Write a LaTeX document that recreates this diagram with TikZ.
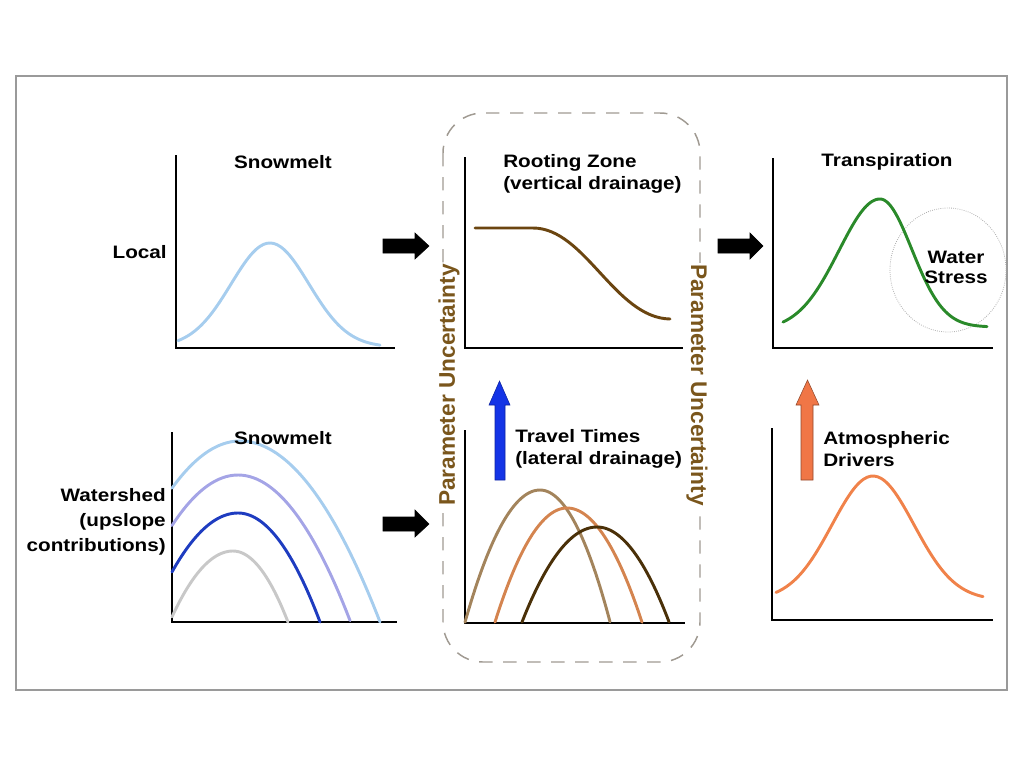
\documentclass[tikz,border=0pt]{standalone}
\usepackage{fontspec}
\setmainfont{Liberation Sans}[FakeStretch=1.15]
\newfontfamily\vfont{Liberation Sans}
\definecolor{frame}{HTML}{9A9A9A}
\definecolor{dashc}{HTML}{A09A92}
\definecolor{lblue}{HTML}{A6CDEE}
\definecolor{lav}{HTML}{A4A4E6}
\definecolor{dblue}{HTML}{1E3CC0}
\definecolor{lgray}{HTML}{C8C8C8}
\definecolor{rbrown}{HTML}{6B4510}
\definecolor{tan}{HTML}{A3845C}
\definecolor{obrown}{HTML}{D4844F}
\definecolor{dbrown}{HTML}{4A3008}
\definecolor{tgreen}{HTML}{2A8A2A}
\definecolor{aorange}{HTML}{F0824A}
\definecolor{arrblue}{HTML}{1434E6}
\definecolor{arrorange}{HTML}{F07646}
\definecolor{pubrown}{HTML}{7A561C}
\begin{document}
\begin{tikzpicture}[x=0.75pt,y=-0.75pt,
  axis/.style={line width=1.5pt,black},
  curve/.style={line width=2.2pt,line cap=round,line join=round},
  lbl/.style={inner sep=0pt,font=\bfseries\fontsize{13.5}{16.5}\selectfont},
  vlbl/.style={inner sep=1pt,fill=white,text=pubrown,font=\vfont\bfseries\fontsize{17}{19}\selectfont},
  blk/.style={fill=black,draw=black,line width=0.4pt}]
\useasboundingbox (0,0) rectangle (1024,768);
% outer frame
\draw[frame,line width=1.5pt] (16,76) rectangle (1007,690);
% dashed rounded box
\draw[dashc,line width=1.1pt,dash pattern=on 10pt off 8pt,rounded corners=30pt] (443,113) rectangle (700,662);
\node[vlbl,rotate=90] (pu1) at (449,385) {Parameter Uncertainty};
\node[vlbl,rotate=-90] (pu2) at (697,385) {Parameter Uncertainty};

% ---- top-left panel
\draw[axis] (176,155) -- (176,348) -- (395,348);
\draw[curve,lblue] plot[domain=178:380,samples=60,smooth] (\x,{347-104*exp(0-((\x-270)/55)^2)});
\node[lbl] (sm1) at (283,162) {Snowmelt};
\node[lbl,anchor=east] (local) at (167,252) {Local};

% ---- bottom-left panel
\draw[axis] (172,432) -- (172,622) -- (397,622);
\draw[curve,lblue] plot[domain=172:240,samples=30,smooth] (\x,{441+1.02*((\x-240)/10)^2}) -- plot[domain=240:380,samples=50,smooth] (\x,{441+0.923*((\x-240)/10)^2});
\draw[curve,lav] plot[domain=172:350,samples=60,smooth] (\x,{475+1.16*((\x-238)/10)^2});
\draw[curve,dblue] plot[domain=172:238,samples=30,smooth] (\x,{513+1.354*((\x-238)/10)^2}) -- plot[domain=238:320,samples=40,smooth] (\x,{513+1.62*((\x-238)/10)^2});
\draw[curve,lgray] plot[domain=172:233,samples=30,smooth] (\x,{551+1.77*((\x-233)/10)^2}) -- plot[domain=233:288,samples=30,smooth] (\x,{551+2.35*((\x-233)/10)^2});
\node[lbl] (sm2) at (283,438) {Snowmelt};
\node[lbl,anchor=east,align=right] (ws) at (166,522) {Watershed\\[2pt](upslope\\[2pt]contributions)};

% ---- black arrows
\fill[blk] (383,239) -- (415,239) -- (415,233) -- (429,246) -- (415,259) -- (415,253) -- (383,253) -- cycle;
\fill[blk] (383,517) -- (415,517) -- (415,510) -- (429,524) -- (415,537) -- (415,531) -- (383,531) -- cycle;
\fill[blk] (718,239) -- (750,239) -- (750,233) -- (763,246) -- (750,259) -- (750,253) -- (718,253) -- cycle;

% ---- middle top panel
\draw[axis] (465,157) -- (465,348) -- (683,348);
\draw[curve,rbrown] (475,228) -- (533,228) .. controls (585,228) and (615,318) .. (670,319);
\node[lbl,anchor=west,align=left] (rz) at (503,174) {Rooting Zone\\(vertical drainage)};

% ---- middle bottom panel
\draw[axis] (465,430) -- (465,623) -- (685,623);
\draw[curve,tan] plot[domain=465:540,samples=40,smooth] (\x,{490+2.35*((\x-540)/10)^2}) -- plot[domain=540:610,samples=40,smooth] (\x,{490+2.69*((\x-540)/10)^2});
\draw[curve,obrown] plot[domain=495:567,samples=40,smooth] (\x,{508+2.2*((\x-567)/10)^2}) -- plot[domain=567:642,samples=40,smooth] (\x,{508+2.03*((\x-567)/10)^2});
\draw[curve,dbrown] plot[domain=522:597,samples=40,smooth] (\x,{527+1.69*((\x-597)/10)^2}) -- plot[domain=597:669,samples=40,smooth] (\x,{527+1.83*((\x-597)/10)^2});
\fill[arrblue,draw=arrblue!70!black,line width=0.4pt] (495,480) -- (495,405) -- (489,405) -- (499.5,381) -- (510,405) -- (505,405) -- (505,480) -- cycle;
\node[lbl,anchor=west,align=left] (tt) at (515,449) {Travel Times\\(lateral drainage)};

% ---- right top panel
\draw[axis] (773,158) -- (773,348) -- (993,348);
\draw[frame!80,densely dotted,line width=0.6pt] (948,270) ellipse [x radius=58,y radius=62];
\draw[curve,tgreen] plot[domain=783:880,samples=50,smooth] (\x,{330-131*exp(0-((\x-880)/58)^2)}) -- plot[domain=880:987,samples=50,smooth] (\x,{327-128*exp(0-((\x-880)/45)^2)});
\node[lbl] (tr) at (887,162) {Transpiration};
\node[lbl,align=center,font=\bfseries\fontsize{13.5}{15}\selectfont] (wst) at (956,267) {Water\\Stress};

% ---- right bottom panel
\draw[axis] (772,428) -- (772,620) -- (993,620);
\draw[curve,aorange] plot[domain=776:983,samples=60,smooth] (\x,{600-124*exp(0-((\x-873)/58)^2)});
\fill[arrorange,draw=arrorange!60!black,line width=0.4pt] (801,480) -- (801,405) -- (796,405) -- (807.5,380) -- (819,405) -- (813,405) -- (813,480) -- cycle;
\node[lbl,anchor=west,align=left] (ad) at (823,449) {Atmospheric\\Drivers};
\end{tikzpicture}
\end{document}
